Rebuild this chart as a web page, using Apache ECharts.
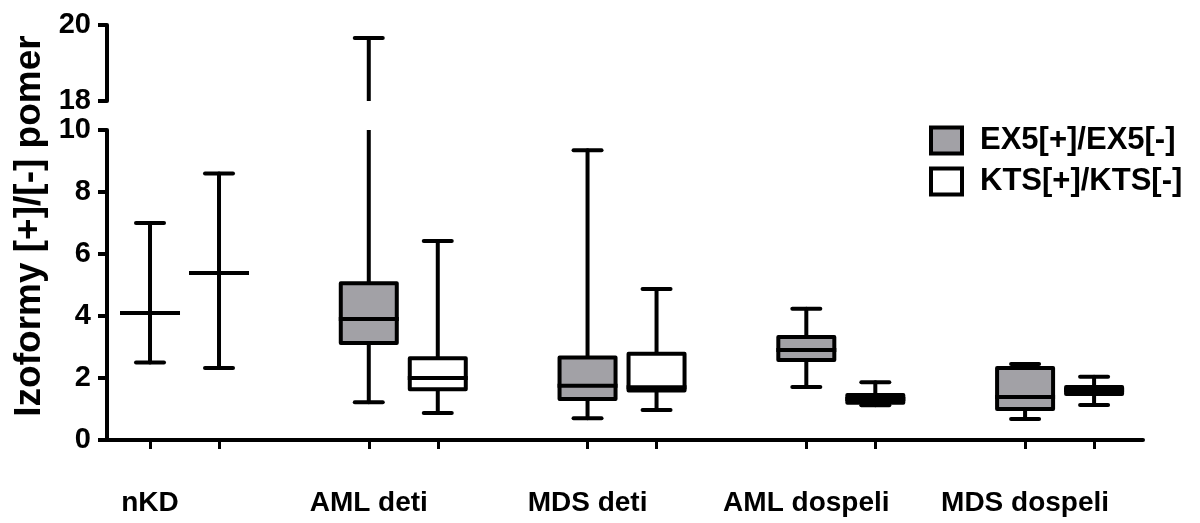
<!DOCTYPE html>
<html>
<head>
<meta charset="utf-8">
<title>Izoformy [+]/[-] pomer</title>
<script src="https://cdn.jsdelivr.net/npm/echarts@6/dist/echarts.min.js"></script>
<style>
  html, body { margin: 0; padding: 0; background: #fff; }
  #chart { width: 1200px; height: 523px; }
</style>
</head>
<body>
<div id="chart"></div>
<script>
// Groups along the x axis
const categories = ['nKD', 'AML deti', 'MDS deti', 'AML dospeli', 'MDS dospeli'];
const seriesNames = ['EX5[+]/EX5[-]', 'KTS[+]/KTS[-]'];

// Box statistics per group: [min, Q1, median, Q3, max]
const ex5Values = [
  [2.5, 4.1, 4.1, 4.1, 7.0],
  [1.22, 3.13, 3.9, 5.06, 19.66],
  [0.7, 1.32, 1.75, 2.66, 9.35],
  [1.71, 2.58, 2.9, 3.32, 4.23],
  [0.68, 1.0, 1.39, 2.32, 2.45]
];
const ktsValues = [
  [2.32, 5.39, 5.39, 5.39, 8.6],
  [0.87, 1.64, 2.0, 2.64, 6.42],
  [0.97, 1.6, 1.7, 2.78, 4.87],
  [1.12, 1.2, 1.32, 1.45, 1.86],
  [1.13, 1.48, 1.61, 1.71, 2.04]
];

// Broken value axis: lower and upper segments
const lowerRange = [0, 10];
const upperRange = [18, 20];
const yInterval = 2;

// Layout of the pair inside each group (in group units)
const pairOffset = 0.3154;
const xMin = -0.1966;
const xMax = 4.539;

const FONT = '"Liberation Sans", Arial, Helvetica, sans-serif';
const GRAY = '#a2a1a6';

function toItems(values, offset) {
  return values.map((v, i) => [i + offset].concat(v));
}

function boxRenderer(fill) {
  return function (params, api) {
    const x = api.value(0);
    const pMin = api.coord([x, api.value(1)]);
    const pQ1 = api.coord([x, api.value(2)]);
    const pMed = api.coord([x, api.value(3)]);
    const pQ3 = api.coord([x, api.value(4)]);
    const pMax = api.coord([x, api.value(5)]);
    const cx = pMin[0];
    const halfBox = 28;
    const halfCap = 14;
    const stroke = { stroke: '#000', lineWidth: 4, lineCap: 'round' };
    return {
      type: 'group',
      children: [
        { type: 'line', shape: { x1: cx, y1: pQ3[1], x2: cx, y2: pMax[1] }, style: stroke },
        { type: 'line', shape: { x1: cx, y1: pQ1[1], x2: cx, y2: pMin[1] }, style: stroke },
        { type: 'line', shape: { x1: cx - halfCap, y1: pMax[1], x2: cx + halfCap, y2: pMax[1] }, style: stroke },
        { type: 'line', shape: { x1: cx - halfCap, y1: pMin[1], x2: cx + halfCap, y2: pMin[1] }, style: stroke },
        {
          type: 'rect',
          shape: { x: cx - halfBox, y: pQ3[1], width: 2 * halfBox, height: pQ1[1] - pQ3[1] },
          style: { fill: fill, stroke: '#000', lineWidth: 4, lineJoin: 'round' }
        },
        {
          type: 'line',
          shape: { x1: cx - halfBox, y1: pMed[1], x2: cx + halfBox, y2: pMed[1] },
          style: { stroke: '#000', lineWidth: 4, lineCap: 'square' }
        }
      ]
    };
  };
}

function boxSeries(name, values, offset, fill, axisIndex) {
  return {
    type: 'custom',
    name: name,
    xAxisIndex: axisIndex,
    yAxisIndex: axisIndex,
    clip: true,
    renderItem: boxRenderer(fill),
    itemStyle: { color: fill, borderColor: '#000', borderWidth: 4 },
    encode: { x: 0, y: [1, 2, 3, 4, 5] },
    data: toItems(values, offset),
    silent: true
  };
}

const axisLineStyle = { color: '#000', width: 4 };
const tickLabelStyle = { color: '#000', fontSize: 29, fontWeight: 'bold', fontFamily: FONT };

function valueYAxis(gridIndex, range) {
  return {
    type: 'value',
    gridIndex: gridIndex,
    min: range[0],
    max: range[1],
    interval: yInterval,
    axisLine: { show: true, onZero: false, lineStyle: axisLineStyle },
    axisTick: { show: true, length: 9, lineStyle: { color: '#000', width: 4 } },
    axisLabel: Object.assign({ margin: 16 }, tickLabelStyle),
    splitLine: { show: false }
  };
}

const boxPositions = [];
categories.forEach((c, i) => { boxPositions.push(i, i + pairOffset); });

const chart = echarts.init(document.getElementById('chart'), null, { renderer: 'canvas' });

chart.setOption({
  animation: false,
  backgroundColor: '#fff',
  grid: [
    { left: 107, right: 57, top: 25, height: 76 },
    { left: 107, right: 57, top: 130, height: 310 }
  ],
  xAxis: [
    { type: 'value', gridIndex: 0, min: xMin, max: xMax, show: false },
    {
      type: 'value',
      gridIndex: 1,
      min: xMin,
      max: xMax,
      axisLine: { show: true, onZero: false, lineStyle: axisLineStyle },
      axisTick: { show: true, length: 9, customValues: boxPositions, lineStyle: { color: '#000', width: 3 } },
      axisLabel: Object.assign({
        margin: 49,
        customValues: categories.map((c, i) => i),
        formatter: v => categories[Math.round(v)]
      }, tickLabelStyle, { fontSize: 28 }),
      splitLine: { show: false }
    }
  ],
  yAxis: [valueYAxis(0, upperRange), valueYAxis(1, lowerRange)],
  legend: {
    orient: 'vertical',
    left: 929,
    top: 125,
    padding: 0,
    itemWidth: 31,
    itemHeight: 26,
    itemGap: 10,
    selectedMode: false,
    data: [
      { name: seriesNames[0], icon: 'rect', itemStyle: { color: GRAY, borderColor: '#000', borderWidth: 4 } },
      { name: seriesNames[1], icon: 'rect', itemStyle: { color: '#fff', borderColor: '#000', borderWidth: 4 } }
    ],
    textStyle: { color: '#000', fontSize: 31, lineHeight: 30, fontWeight: 'bold', fontFamily: FONT, padding: [0, 0, 0, 13] }
  },
  graphic: [
    {
      type: 'text',
      x: 30,
      y: 226,
      rotation: Math.PI / 2,
      style: {
        text: 'Izoformy [+]/[-] pomer',
        font: 'bold 37px ' + FONT,
        fill: '#000',
        align: 'center',
        verticalAlign: 'middle'
      }
    }
  ],
  series: [
    boxSeries(seriesNames[0], ex5Values, 0, GRAY, 1),
    boxSeries(seriesNames[1], ktsValues, pairOffset, '#fff', 1),
    boxSeries(seriesNames[0], ex5Values, 0, GRAY, 0),
    boxSeries(seriesNames[1], ktsValues, pairOffset, '#fff', 0)
  ]
});
</script>
</body>
</html>
